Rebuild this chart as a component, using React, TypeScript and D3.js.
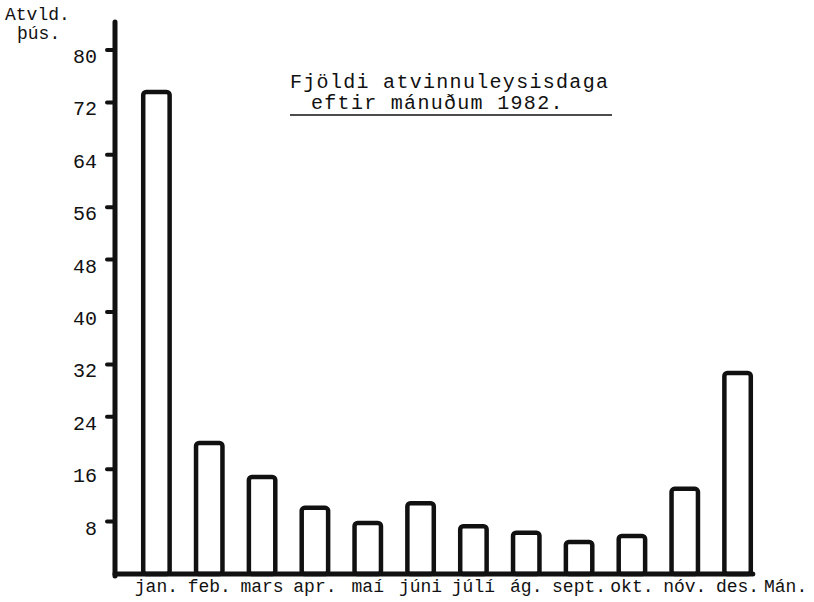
import React, { useEffect, useRef } from 'react';
import * as d3 from 'd3';

// Fjöldi atvinnuleysisdaga eftir mánuðum 1982 (þús. daga)
const months = ['jan.', 'feb.', 'mars', 'apr.', 'maí', 'júni', 'júlí', 'ág.', 'sept.', 'okt.', 'nóv.', 'des.'];
const days = [73.6, 20.0, 14.8, 10.1, 7.8, 10.8, 7.3, 6.3, 4.9, 5.8, 13.0, 30.7];
const yTicks = [8, 16, 24, 32, 40, 48, 56, 64, 72, 80];
const titleLines = ['Fjöldi atvinnuleysisdaga', 'eftir mánuðum 1982.'];

const FONT = '"Liberation Mono", "Courier New", monospace';

const App: React.FC = () => {
  const svgRef = useRef<SVGSVGElement>(null);

  useEffect(() => {
    if (!svgRef.current) return;
    const svg = d3.select(svgRef.current);
    svg.selectAll('*').remove();

    const axisX = 115;
    const x = d3.scaleBand<string>()
      .domain(months)
      .range([130, 764])
      .paddingInner(0.5)
      .paddingOuter(0.25);

    const y = d3.scaleLinear().domain([0, 80]).range([574, 50]);

    // y-axis tick stubs
    svg.append('g')
      .selectAll('line')
      .data(yTicks)
      .enter()
      .append('line')
      .attr('x1', axisX - 8)
      .attr('x2', axisX)
      .attr('y1', (d) => y(d))
      .attr('y2', (d) => y(d))
      .attr('stroke', '#111')
      .attr('stroke-width', 4)
      .attr('stroke-linecap', 'round');

    // y tick labels
    svg.append('g')
      .selectAll('text')
      .data(yTicks)
      .enter()
      .append('text')
      .attr('x', 97)
      .attr('y', (d) => y(d) + 13)
      .attr('text-anchor', 'end')
      .attr('font-family', FONT)
      .attr('font-size', 20)
      .attr('fill', '#111')
      .text((d) => d);

    // bars
    svg.append('g')
      .selectAll('rect')
      .data(days)
      .enter()
      .append('rect')
      .attr('x', (_d, i) => x(months[i]) || 0)
      .attr('width', x.bandwidth())
      .attr('y', (d) => y(d))
      .attr('height', (d) => y(0) - y(d))
      .attr('rx', 3)
      .attr('fill', 'white')
      .attr('stroke', '#111')
      .attr('stroke-width', 4.5);

    // axes lines
    svg.append('line')
      .attr('x1', axisX)
      .attr('x2', axisX)
      .attr('y1', 22)
      .attr('y2', y(0) + 2)
      .attr('stroke', '#111')
      .attr('stroke-width', 5)
      .attr('stroke-linecap', 'round');

    svg.append('line')
      .attr('x1', axisX)
      .attr('x2', (x(months[months.length - 1]) || 0) + x.bandwidth() + 2)
      .attr('y1', y(0))
      .attr('y2', y(0))
      .attr('stroke', '#111')
      .attr('stroke-width', 5)
      .attr('stroke-linecap', 'round');

    // month labels
    svg.append('g')
      .selectAll('text')
      .data(months)
      .enter()
      .append('text')
      .attr('x', (d) => (x(d) || 0) + x.bandwidth() / 2)
      .attr('y', 592)
      .attr('text-anchor', 'middle')
      .attr('font-family', FONT)
      .attr('font-size', 18)
      .attr('fill', '#111')
      .text((d) => d);

    svg.append('text')
      .attr('x', 764)
      .attr('y', 592)
      .attr('font-family', FONT)
      .attr('font-size', 18)
      .attr('fill', '#111')
      .text('Mán.');

    // y-axis unit
    svg.append('text')
      .attr('x', 5)
      .attr('y', 20)
      .attr('font-family', FONT)
      .attr('font-size', 18)
      .attr('fill', '#111')
      .text('Atvld.');
    svg.append('text')
      .attr('x', 17)
      .attr('y', 39)
      .attr('font-family', FONT)
      .attr('font-size', 18)
      .attr('fill', '#111')
      .text('þús.');

    // title
    svg.append('text')
      .attr('x', 290)
      .attr('y', 88)
      .attr('font-family', FONT)
      .attr('font-size', 20)
      .attr('letter-spacing', 1.3)
      .attr('fill', '#111')
      .text(titleLines[0]);
    svg.append('text')
      .attr('x', 311)
      .attr('y', 109)
      .attr('font-family', FONT)
      .attr('font-size', 20)
      .attr('letter-spacing', 1.3)
      .attr('fill', '#111')
      .text(titleLines[1]);
    svg.append('line')
      .attr('x1', 290)
      .attr('x2', 612)
      .attr('y1', 115)
      .attr('y2', 115)
      .attr('stroke', '#111')
      .attr('stroke-width', 1.5);
  }, []);

  return (
    <div style={{ position: 'fixed', left: 0, top: 0, width: 814, height: 602, background: 'white' }}>
      <svg ref={svgRef} width={814} height={602} style={{ display: 'block' }} />
    </div>
  );
};

export default App;
